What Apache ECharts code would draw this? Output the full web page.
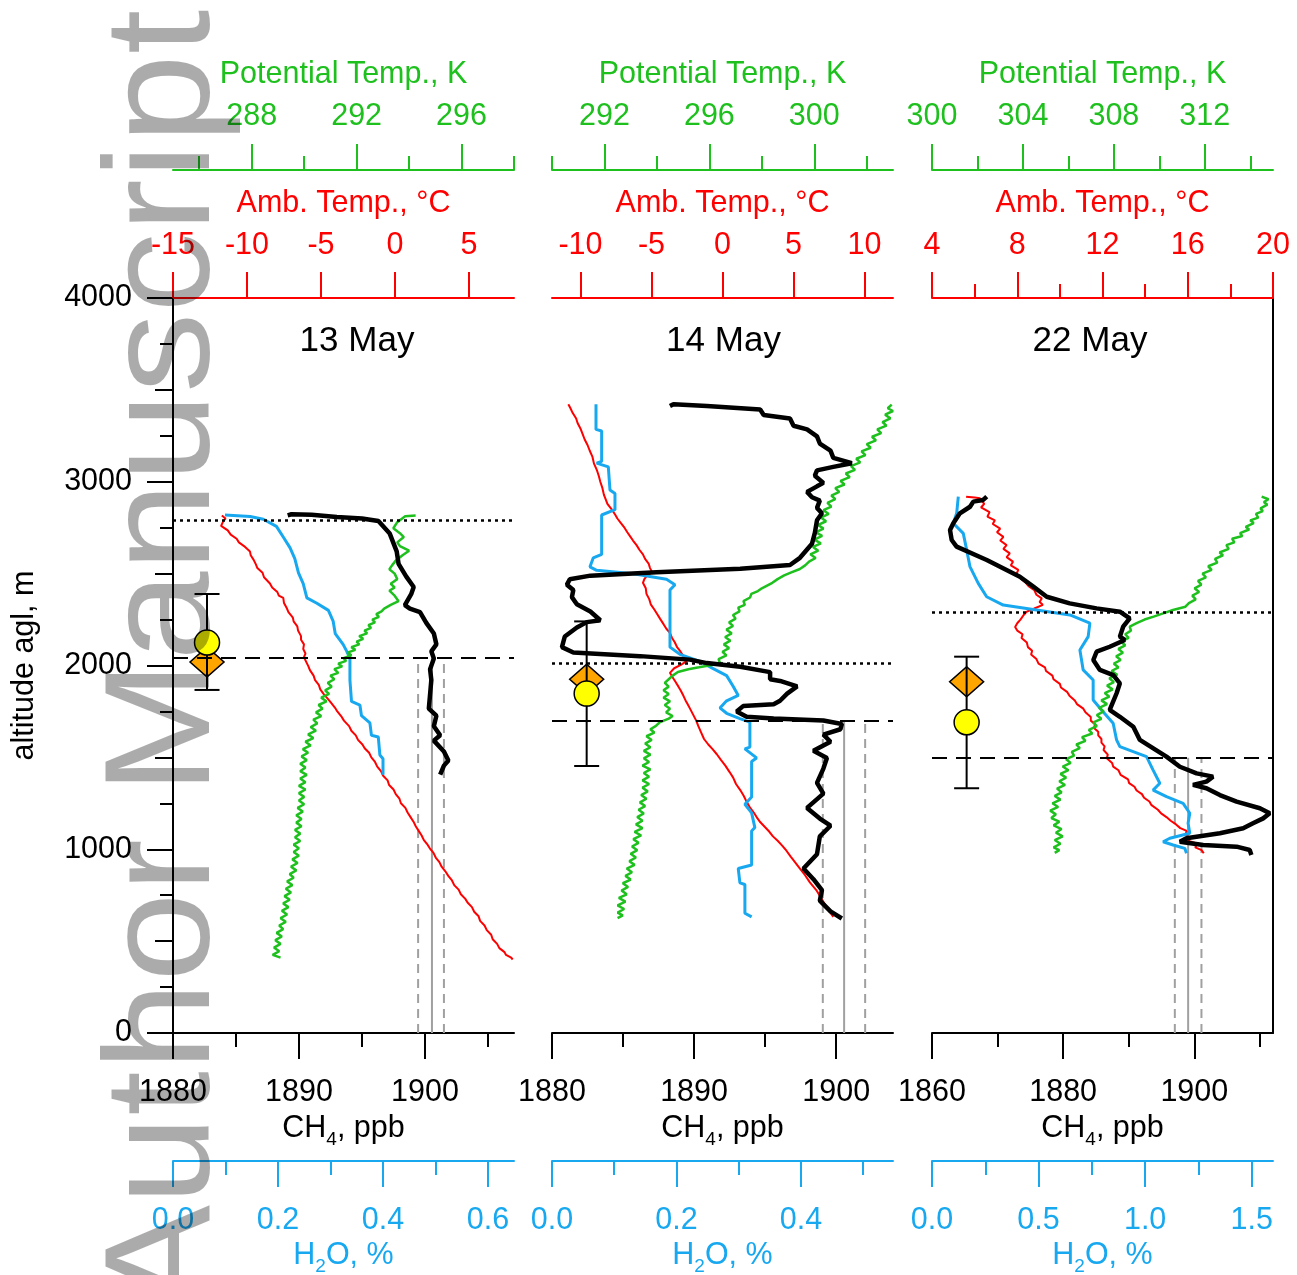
<!DOCTYPE html>
<html>
<head>
<meta charset="utf-8">
<script src="https://cdn.jsdelivr.net/npm/echarts@6/dist/echarts.min.js"></script>
<style>
  html, body { margin: 0; padding: 0; background: #fff; }
  #chart { width: 1297px; height: 1275px; }
</style>
</head>
<body>
<div id="chart"></div>
<script>
// ---------- flight days and axis definitions ----------
const flightDates = ['13 May', '14 May', '22 May'];

const ch4Range = [[1880, 1907.06], [1880, 1904], [1860, 1912]];
const ch4Major = [[1880, 1890, 1900], [1880, 1890, 1900], [1860, 1880, 1900]];
const ch4Minor = [[1885, 1895, 1905], [1885, 1895], [1870, 1890, 1910]];

const h2oRange = [[0, 0.6495], [0, 0.548], [0, 1.6]];
const h2oMajor = [[0, 0.2, 0.4, 0.6], [0, 0.2, 0.4], [0, 0.5, 1.0, 1.5]];
const h2oMinor = [[0.1, 0.3, 0.5], [0.1, 0.3, 0.5], [0.25, 0.75, 1.25]];

const taRange = [[-15, 8.04], [-12, 12], [4, 20]];
const taMajor = [[-15, -10, -5, 0, 5], [-10, -5, 0, 5, 10], [4, 8, 12, 16, 20]];
const taMinor = [[], [], [6, 10, 14, 18]];

const thRange = [[285, 298], [290, 303], [300, 315]];
const thMajor = [[288, 292, 296], [292, 296, 300], [300, 304, 308, 312]];
const thMinor = [[286, 290, 294, 298], [290, 294, 298, 302], [302, 306, 310, 314]];

const altRange = [0, 4000];
const altHalfTicks = [500, 1500, 2500, 3500];

// boundary-layer heights (m) and CH4 background statistics (ppb)
const dottedLevel = [2790, 2010, 2288];
const dashedLevel = [2040, 1701, 1498];
const ch4Mean = [1900.55, 1900.56, 1899.06];
const ch4Band = [[1899.45, 1901.5], [1899.06, 1902.04], [1897.03, 1901.09]];

// estimated height markers: x position, error bar range, circle and diamond heights
const estX = [1882.7, 1882.44, 1865.28];
const estBar = [[1867, 2389], [1453, 2240], [1332, 2048]];
const estCircle = [2125, 1847, 1691];
const estDiamond = [2019, 1925, 1912];

// ---------- vertical profiles: [value, altitude m] ----------
const ch4_0513 = [[1889.1,2817],[1889.4,2823],[1891,2820],[1893,2808],[1895,2800],[1896.3,2786],[1897.2,2718],[1897.75,2621],[1897.9,2553],[1898.5,2485],[1899.1,2427],[1898.9,2388],[1898.4,2329],[1898.8,2310],[1899.6,2291],[1900.1,2232],[1900.7,2174],[1900.9,2115],[1900.5,2077],[1900.7,2038],[1900.4,1979],[1900.5,1921],[1900.4,1843],[1900.3,1765],[1900.9,1727],[1900.7,1669],[1901.2,1620],[1900.7,1591],[1901.5,1532],[1901.85,1483],[1901.5,1455],[1901.2,1406]];

const h2o_0513 = [[0.099,2819],[0.147,2811],[0.172,2796],[0.197,2757],[0.210,2699],[0.223,2640],[0.232,2582],[0.239,2504],[0.248,2446],[0.255,2368],[0.274,2339],[0.296,2300],[0.305,2242],[0.309,2174],[0.324,2115],[0.331,2077],[0.337,2038],[0.337,1921],[0.340,1805],[0.356,1785],[0.359,1727],[0.375,1688],[0.378,1620],[0.391,1611],[0.394,1513],[0.400,1493],[0.400,1406]];

const ta_0513 = [[-11.7,2816],[-11.45,2800],[-11.6,2786],[-11.75,2760],[-11.3,2735],[-11.1,2712],[-10.7,2690],[-10.55,2670],[-10.2,2650],[-10.0,2635],[-9.8,2621],[-9.75,2600],[-9.55,2575],[-9.4,2550],[-9.3,2530],[-8.95,2505],[-8.85,2480],[-8.45,2446],[-8.3,2425],[-7.95,2400],[-7.85,2380],[-7.55,2368],[-7.5,2340],[-7.3,2310],[-7.2,2290],[-6.9,2260],[-6.85,2240],[-6.6,2213],[-6.55,2190],[-6.35,2160],[-6.35,2140],[-6.15,2115],[-6.2,2090],[-6.05,2065],[-6.15,2045],[-6.0,2020],[-5.85,1995],[-5.75,1975],[-5.5,1945],[-5.4,1920],[-5.15,1895],[-5.05,1870],[-4.8,1843],[-4.55,1820],[-4.3,1795],[-4.05,1770],[-3.9,1750],[-3.6,1720],[-3.45,1700],[-3.1,1670],[-2.95,1645],[-2.65,1620],[-2.5,1595],[-2.2,1570],[-2.05,1550],[-1.75,1525],[-1.6,1500],[-1.35,1475],[-1.2,1450],[-0.95,1425],[-0.8,1400],[-0.5,1375],[-0.4,1350],[-0.1,1325],[0.05,1300],[0.3,1275],[0.4,1250],[0.7,1225],[0.85,1200],[1.05,1175],[1.25,1150],[1.4,1125],[1.6,1100],[1.8,1075],[1.95,1050],[2.2,1025],[2.35,1005],[2.6,980],[2.75,955],[3.0,930],[3.15,905],[3.4,880],[3.6,855],[3.85,830],[4.0,805],[4.3,780],[4.45,755],[4.75,730],[4.9,710],[5.2,685],[5.35,660],[5.65,635],[5.75,610],[6.05,585],[6.2,560],[6.5,535],[6.6,510],[6.9,485],[7.05,462],[7.4,440],[7.5,425],[7.85,410],[7.95,400]];

const th_0513 = [[294.25,2816],[293.85,2812],[293.55,2780],[293.4,2747],[293.65,2720],[293.8,2699],[293.55,2670],[293.65,2650],[294.0,2625],[293.75,2600],[293.5,2572],[293.35,2545],[293.25,2524],[293.45,2500],[293.55,2470],[293.3,2445],[293.45,2425],[293.25,2407],[293.45,2380],[293.6,2350],[293.3,2330],[293.05,2310],[292.95,2295],[292.75,2280],[292.85,2265],[292.6,2250],[292.7,2235],[292.45,2220],[292.55,2205],[292.3,2190],[292.4,2175],[292.1,2160],[292.25,2145],[292.0,2130],[292.1,2115],[291.8,2100],[291.95,2085],[291.65,2070],[291.8,2055],[291.5,2040],[291.6,2025],[291.3,2010],[291.45,1995],[291.15,1980],[291.3,1960],[291.0,1945],[291.15,1925],[290.9,1905],[291.05,1885],[290.8,1865],[290.95,1845],[290.65,1825],[290.85,1805],[290.55,1785],[290.7,1765],[290.45,1745],[290.65,1725],[290.35,1705],[290.5,1685],[290.25,1665],[290.45,1645],[290.15,1625],[290.35,1605],[290.05,1585],[290.25,1565],[289.95,1545],[290.15,1525],[289.9,1505],[290.1,1485],[289.85,1465],[290.05,1445],[289.85,1425],[290.1,1405],[289.85,1385],[290.05,1365],[289.8,1345],[290.05,1325],[289.8,1305],[290.0,1285],[289.8,1265],[290.0,1245],[289.75,1225],[289.95,1205],[289.7,1185],[289.9,1165],[289.7,1145],[289.9,1125],[289.65,1105],[289.85,1085],[289.65,1065],[289.85,1045],[289.6,1025],[289.8,1005],[289.6,985],[289.8,965],[289.55,945],[289.75,925],[289.5,905],[289.7,885],[289.45,865],[289.6,845],[289.35,825],[289.55,805],[289.3,785],[289.5,765],[289.25,745],[289.45,725],[289.2,705],[289.4,685],[289.15,665],[289.35,645],[289.1,625],[289.3,605],[289.05,585],[289.2,565],[288.95,545],[289.15,525],[288.9,505],[289.1,485],[288.85,465],[289.05,445],[288.8,425],[289.1,410]];

const ch4_0514 = [[1888.3,3412],[1888.55,3422],[1890.9,3412],[1894.65,3393],[1894.9,3363],[1896.75,3344],[1897,3305],[1897.95,3285],[1898.65,3247],[1898.85,3208],[1899.6,3169],[1899.8,3130],[1901.1,3101],[1899.8,3081],[1898.65,3062],[1898.5,3033],[1899.1,2994],[1898.65,2975],[1897.95,2945],[1898.3,2916],[1898.85,2897],[1898.65,2858],[1899,2829],[1898.65,2790],[1898.5,2722],[1898.3,2663],[1897.45,2586],[1896.75,2547],[1893.25,2527],[1887.35,2508],[1882.7,2489],[1881.25,2469],[1881.05,2440],[1881.5,2411],[1881.4,2372],[1881.75,2333],[1882.7,2294],[1883.4,2246],[1882.45,2236],[1881.75,2207],[1880.9,2158],[1880.7,2100],[1881.5,2071],[1886.2,2051],[1889.7,2032],[1890.9,2013],[1893.25,1993],[1895.35,1964],[1895.35,1925],[1896.05,1916],[1897.25,1886],[1896.55,1847],[1896.05,1808],[1895.6,1789],[1893.45,1779],[1893,1750],[1893.7,1721],[1895.6,1711],[1899.1,1701],[1900.4,1682],[1900.3,1653],[1899.1,1624],[1899.6,1585],[1898.4,1536],[1899.35,1497],[1899.1,1439],[1898.65,1361],[1899.1,1303],[1897.95,1225],[1898.85,1167],[1899.6,1128],[1898.85,1070],[1898.65,973],[1897.7,895],[1898.4,837],[1899,778],[1898.85,720],[1899.6,662],[1900.4,623]];

const h2o_0514 = [[0.0707,3422],[0.0707,3285],[0.0798,3276],[0.0798,3111],[0.0718,3101],[0.0905,3081],[0.0932,2955],[0.1012,2936],[0.1012,2848],[0.0798,2819],[0.0798,2605],[0.0664,2586],[0.061,2537],[0.0718,2518],[0.1306,2499],[0.184,2469],[0.1976,2440],[0.1896,2411],[0.1896,2100],[0.2056,2061],[0.2378,2022],[0.2591,1983],[0.2806,1945],[0.2913,1886],[0.2993,1837],[0.2806,1808],[0.2699,1769],[0.2806,1740],[0.302,1711],[0.318,1692],[0.318,1556],[0.31,1546],[0.3288,1497],[0.3208,1478],[0.3208,1284],[0.31,1245],[0.3208,1198],[0.326,1118],[0.3208,1099],[0.3208,914],[0.2993,895],[0.302,817],[0.31,808],[0.31,652],[0.3208,632]];

const ta_0514 = [[-10.85,3422],[-10.7,3400],[-10.55,3375],[-10.3,3344],[-10.2,3320],[-10.0,3290],[-9.85,3260],[-9.7,3230],[-9.5,3200],[-9.35,3170],[-9.15,3135],[-9.05,3100],[-8.85,3065],[-8.7,3030],[-8.6,3000],[-8.45,2965],[-8.35,2930],[-8.2,2900],[-8.1,2880],[-7.8,2850],[-7.55,2820],[-7.4,2800],[-7.15,2775],[-6.9,2750],[-6.7,2725],[-6.5,2703],[-6.3,2680],[-6.05,2655],[-5.85,2630],[-5.6,2605],[-5.45,2580],[-5.2,2555],[-5.1,2530],[-4.95,2508],[-5.3,2490],[-5.5,2470],[-5.6,2450],[-5.4,2420],[-5.35,2390],[-5.15,2360],[-5.05,2333],[-4.8,2305],[-4.6,2280],[-4.4,2255],[-4.15,2225],[-3.95,2200],[-3.7,2177],[-3.55,2150],[-3.35,2125],[-3.2,2100],[-2.95,2075],[-2.75,2050],[-2.5,2025],[-2.9,2005],[-3.4,1985],[-3.7,1960],[-3.55,1940],[-3.3,1910],[-3.1,1885],[-2.95,1865],[-2.75,1835],[-2.6,1810],[-2.45,1789],[-2.25,1760],[-2.05,1730],[-1.85,1700],[-1.7,1670],[-1.5,1635],[-1.3,1600],[-1.0,1570],[-0.7,1545],[-0.4,1517],[-0.1,1485],[0.2,1455],[0.5,1420],[0.75,1390],[0.95,1355],[1.25,1322],[1.5,1290],[1.7,1258],[1.95,1225],[2.2,1200],[2.4,1175],[2.65,1148],[3.0,1120],[3.3,1095],[3.55,1070],[3.9,1045],[4.2,1020],[4.5,992],[4.8,960],[5.1,930],[5.45,895],[5.8,860],[6.15,820],[6.6,778],[6.9,740],[7.2,700],[7.5,665],[7.8,632]];

const th_0514 = [[302.95,3420],[302.8,3400],[303.0,3385],[302.7,3365],[302.9,3345],[302.6,3325],[302.75,3305],[302.4,3285],[302.55,3265],[302.2,3245],[302.35,3225],[302.0,3205],[302.15,3185],[301.8,3165],[301.95,3145],[301.6,3125],[301.75,3105],[301.4,3085],[301.55,3065],[301.2,3045],[301.35,3025],[301.0,3005],[301.15,2985],[300.8,2965],[300.95,2945],[300.65,2925],[300.8,2905],[300.5,2885],[300.65,2865],[300.35,2845],[300.55,2825],[300.25,2805],[300.45,2785],[300.15,2765],[300.35,2745],[300.05,2725],[300.3,2705],[300.0,2685],[300.25,2665],[299.95,2645],[300.15,2625],[299.85,2605],[300.05,2585],[299.8,2565],[299.65,2545],[299.45,2525],[299.1,2505],[298.85,2490],[298.6,2470],[298.4,2450],[298.2,2435],[298.0,2420],[297.85,2405],[297.6,2390],[297.55,2370],[297.3,2350],[297.35,2330],[297.1,2315],[297.15,2295],[296.9,2275],[297.0,2255],[296.75,2235],[296.9,2215],[296.65,2195],[296.85,2175],[296.6,2155],[296.8,2135],[296.55,2115],[296.75,2095],[296.5,2075],[296.65,2055],[296.35,2035],[296.4,2015],[296.1,2003],[295.6,1990],[295.2,1980],[294.8,1965],[294.6,1945],[294.45,1925],[294.3,1905],[294.45,1885],[294.25,1865],[294.45,1845],[294.25,1825],[294.5,1805],[294.3,1785],[294.5,1765],[294.35,1745],[294.6,1725],[294.45,1711],[294.1,1690],[293.95,1670],[293.75,1653],[293.9,1635],[293.6,1615],[293.8,1595],[293.55,1575],[293.75,1555],[293.5,1535],[293.75,1515],[293.5,1495],[293.7,1475],[293.45,1455],[293.75,1435],[293.5,1415],[293.7,1395],[293.45,1375],[293.7,1355],[293.45,1335],[293.65,1315],[293.4,1295],[293.6,1275],[293.35,1255],[293.55,1235],[293.3,1215],[293.5,1195],[293.25,1175],[293.45,1155],[293.2,1135],[293.45,1115],[293.15,1095],[293.4,1075],[293.1,1055],[293.3,1035],[293.05,1015],[293.25,995],[293.0,975],[293.2,955],[292.95,935],[293.15,915],[292.85,895],[293.05,875],[292.8,855],[293.0,835],[292.7,815],[292.9,795],[292.65,775],[292.85,755],[292.55,735],[292.8,715],[292.5,695],[292.75,675],[292.5,655],[292.7,640],[292.5,625]];

const ch4_0522 = [[1868.35,2919],[1867.8,2901],[1866.3,2892],[1865.8,2864],[1864.25,2828],[1863.25,2774],[1862.75,2737],[1863,2683],[1863.75,2647],[1868.35,2574],[1873.4,2483],[1875.45,2429],[1877.5,2374],[1881,2338],[1885.1,2311],[1888.65,2293],[1890.15,2257],[1889.15,2211],[1888.65,2157],[1889.4,2139],[1887.1,2102],[1885.1,2075],[1884.6,2030],[1885.6,1976],[1887.65,1948],[1888.65,1903],[1888.15,1849],[1887.1,1758],[1888.65,1721],[1890.7,1667],[1891.7,1595],[1893.75,1549],[1895.75,1504],[1897.8,1449],[1900.35,1413],[1902.85,1395],[1901.85,1368],[1899.8,1350],[1901.85,1332],[1903.9,1295],[1906.45,1259],[1910,1223],[1911.5,1196],[1910.5,1168],[1908.95,1141],[1907.45,1114],[1903.9,1087],[1898.8,1060],[1897.8,1041],[1901.35,1023],[1906.45,1014],[1908.45,996],[1908.7,969]];

const h2o_0522 = [[0.1234,2919],[0.1157,2828],[0.0999,2774],[0.1467,2719],[0.1627,2629],[0.1781,2538],[0.2171,2447],[0.2564,2374],[0.3343,2329],[0.4909,2302],[0.647,2275],[0.7407,2230],[0.7328,2157],[0.6939,2084],[0.7093,1976],[0.7562,1921],[0.7562,1812],[0.7956,1758],[0.85,1686],[0.866,1595],[0.8814,1558],[1.0066,1504],[1.0375,1431],[1.0689,1359],[1.0375,1322],[1.1003,1286],[1.1782,1250],[1.2096,1196],[1.2016,1141],[1.2096,1087],[1.1158,1060],[1.0844,1041],[1.1313,1023],[1.1861,1005],[1.1941,978]];

const ta_0522 = [[5.6,2919],[6.0,2914],[6.25,2910],[6.45,2880],[6.3,2860],[6.7,2835],[6.6,2810],[6.95,2790],[6.85,2770],[7.2,2745],[7.05,2725],[7.35,2700],[7.2,2680],[7.5,2655],[7.35,2635],[7.65,2610],[7.5,2590],[7.8,2565],[7.7,2545],[8.05,2520],[7.95,2495],[8.2,2470],[8.4,2450],[8.55,2430],[8.8,2410],[8.9,2385],[9.15,2365],[9.05,2345],[9.2,2330],[8.8,2310],[8.45,2293],[8.3,2275],[8.15,2250],[8.0,2230],[7.9,2210],[8.0,2190],[8.25,2170],[8.2,2150],[8.45,2125],[8.5,2100],[8.7,2080],[8.65,2060],[8.9,2035],[9.0,2010],[9.3,1990],[9.35,1970],[9.65,1945],[9.7,1925],[10.0,1900],[10.05,1880],[10.35,1855],[10.45,1835],[10.7,1810],[10.8,1790],[11.1,1765],[11.2,1745],[11.45,1720],[11.45,1700],[11.65,1680],[11.6,1660],[11.8,1640],[11.8,1620],[11.95,1600],[11.95,1580],[12.1,1560],[12.05,1540],[12.25,1515],[12.2,1495],[12.45,1470],[12.5,1450],[12.75,1430],[12.85,1405],[13.2,1380],[13.25,1360],[13.5,1340],[13.6,1320],[13.85,1300],[13.95,1280],[14.2,1260],[14.3,1240],[14.6,1215],[14.75,1195],[15.0,1175],[15.2,1155],[15.45,1135],[15.65,1115],[15.95,1100],[15.9,1080],[16.1,1060],[16.05,1045],[16.45,1030],[16.35,1010],[16.65,995],[16.75,978]];

const th_0522 = [[314.5,2919],[314.8,2905],[314.6,2890],[314.75,2875],[314.45,2855],[314.55,2840],[314.25,2825],[314.35,2805],[314.0,2790],[314.15,2775],[313.8,2755],[313.95,2740],[313.55,2720],[313.65,2705],[313.2,2690],[313.3,2670],[312.95,2655],[313.05,2635],[312.65,2615],[312.8,2600],[312.45,2580],[312.55,2560],[312.15,2540],[312.3,2520],[311.9,2500],[312.05,2480],[311.7,2460],[311.85,2440],[311.55,2420],[311.75,2400],[311.45,2380],[311.6,2360],[311.3,2340],[311.15,2320],[310.6,2302],[310.2,2285],[309.75,2266],[309.35,2250],[309.0,2230],[308.7,2211],[308.75,2190],[308.5,2170],[308.65,2150],[308.3,2130],[308.5,2110],[308.2,2090],[308.4,2070],[308.1,2050],[308.3,2030],[308.0,2010],[308.2,1990],[307.9,1970],[308.15,1950],[307.8,1930],[308.0,1910],[307.7,1890],[307.95,1870],[307.6,1850],[307.8,1830],[307.45,1810],[307.7,1790],[307.35,1770],[307.55,1750],[307.25,1730],[307.45,1710],[307.1,1690],[307.25,1670],[306.9,1650],[307.05,1630],[306.6,1610],[306.75,1590],[306.35,1570],[306.5,1550],[306.15,1530],[306.25,1510],[305.9,1490],[306.1,1470],[305.75,1450],[306.0,1430],[305.65,1410],[305.9,1390],[305.6,1370],[305.85,1350],[305.5,1330],[305.7,1310],[305.4,1290],[305.65,1270],[305.3,1250],[305.55,1230],[305.2,1210],[305.45,1190],[305.25,1170],[305.6,1150],[305.35,1130],[305.7,1110],[305.45,1090],[305.75,1070],[305.4,1050],[305.65,1030],[305.35,1010],[305.6,995],[305.4,980]];

const ch4Profiles = [ch4_0513, ch4_0514, ch4_0522];
const h2oProfiles = [h2o_0513, h2o_0514, h2o_0522];
const taProfiles = [ta_0513, ta_0514, ta_0522];
const thProfiles = [th_0513, th_0514, th_0522];

// ---------- styling ----------
const FONT = "'Liberation Sans', Arial, Helvetica, sans-serif";
const BLACK = '#000000', BLUE = '#18a8f0', RED = '#ff0000', GREEN = '#1ec01e', GRAY = '#a0a0a0';
const FS = 30.5;
const gridLeft = [173, 552, 932];
const titleX = [357, 723.5, 1090];
const GRID_W = 341, GRID_TOP = 298, GRID_H = 735;
const STACK_OFFSET = 128;

const xAxes = [], yAxes = [], series = [];
const plain = v => String(v);

function addAxisPair(g, pos, offset, range, major, minor, color, o) {
  const idx = xAxes.length;
  xAxes.push({
    type: 'value', gridIndex: g, position: pos, offset: offset,
    min: range[0], max: range[1],
    axisLine: { show: true, onZero: false, lineStyle: { color: color, width: 2 } },
    axisTick: { show: true, inside: false, length: 26, customValues: major, lineStyle: { color: color, width: 2 } },
    axisLabel: { show: true, customValues: major, margin: o.margin, color: color,
                 fontSize: FS, fontFamily: FONT, formatter: o.fmt || plain },
    splitLine: { show: false },
    name: o.name, nameLocation: 'middle', nameGap: o.nameGap, nameMoveOverlap: false,
    nameTextStyle: Object.assign({ color: color, fontSize: FS, fontFamily: FONT, lineHeight: 34 },
                                 o.rich ? { rich: o.rich } : {})
  });
  xAxes.push({
    type: 'value', gridIndex: g, position: pos, offset: offset,
    min: range[0], max: range[1],
    axisLine: { show: false, onZero: false },
    axisTick: { show: minor.length > 0, inside: false, length: 14, customValues: minor,
                lineStyle: { color: color, width: 2 } },
    axisLabel: { show: false }, splitLine: { show: false }
  });
  return idx;
}

function subRich(color) {
  return {
    a: { color: color, fontSize: FS, fontFamily: FONT, lineHeight: 40 },
    s: { color: color, fontSize: 19, fontFamily: FONT, lineHeight: 19, verticalAlign: 'bottom' }
  };
}

// altitude axes
yAxes.push({
  type: 'value', gridIndex: 0, min: altRange[0], max: altRange[1], interval: 1000, position: 'left',
  axisLine: { show: true, onZero: false, lineStyle: { color: BLACK, width: 2 } },
  axisTick: { show: true, length: 26, lineStyle: { color: BLACK, width: 2 } },
  minorTick: { show: true, splitNumber: 4, length: 13, lineStyle: { color: BLACK, width: 2 } },
  axisLabel: { margin: 41, color: BLACK, fontSize: FS, fontFamily: FONT, formatter: plain },
  splitLine: { show: false }, minorSplitLine: { show: false },
  name: 'altitude agl, m', nameLocation: 'middle', nameRotate: 90, nameGap: 131, nameMoveOverlap: false,
  nameTextStyle: { color: BLACK, fontSize: FS, fontFamily: FONT, lineHeight: 34 }
});
yAxes.push({
  type: 'value', gridIndex: 0, min: altRange[0], max: altRange[1], position: 'left',
  axisLine: { show: false, onZero: false },
  axisTick: { show: true, length: 18, customValues: altHalfTicks, lineStyle: { color: BLACK, width: 2 } },
  axisLabel: { show: false }, splitLine: { show: false }
});
yAxes.push({ type: 'value', gridIndex: 1, min: altRange[0], max: altRange[1], show: false });
yAxes.push({ type: 'value', gridIndex: 2, min: altRange[0], max: altRange[1], show: false });
yAxes.push({
  type: 'value', gridIndex: 2, min: altRange[0], max: altRange[1], position: 'right',
  axisLine: { show: true, onZero: false, lineStyle: { color: BLACK, width: 2 } },
  axisTick: { show: false }, axisLabel: { show: false }, splitLine: { show: false }
});
const mainY = [0, 2, 3];

function errorBar(params, api) {
  const x = api.value(0);
  const lo = api.coord([x, api.value(1)]);
  const hi = api.coord([x, api.value(2)]);
  const hw = 12.5;
  const st = { stroke: BLACK, lineWidth: 2 };
  return {
    type: 'group',
    children: [
      { type: 'line', shape: { x1: lo[0], y1: lo[1], x2: hi[0], y2: hi[1] }, style: st },
      { type: 'line', shape: { x1: lo[0] - hw, y1: lo[1], x2: lo[0] + hw, y2: lo[1] }, style: st },
      { type: 'line', shape: { x1: hi[0] - hw, y1: hi[1], x2: hi[0] + hw, y2: hi[1] }, style: st }
    ]
  };
}

const grids = [];
for (let p = 0; p < 3; p++) {
  grids.push({ left: gridLeft[p], top: GRID_TOP, width: GRID_W, height: GRID_H,
               containLabel: false, outerBoundsMode: 'none' });

  const ch4Ax = addAxisPair(p, 'bottom', 0, ch4Range[p], ch4Major[p], ch4Minor[p], BLACK,
    { margin: 44, name: '{a|CH}{s|4}{a|, ppb}', nameGap: 76, rich: subRich(BLACK) });
  const h2oAx = addAxisPair(p, 'bottom', STACK_OFFSET, h2oRange[p], h2oMajor[p], h2oMinor[p], BLUE,
    { margin: 44, name: '{a|H}{s|2}{a|O, %}', nameGap: 75, rich: subRich(BLUE), fmt: v => v.toFixed(1) });
  const taAx = addAxisPair(p, 'top', 0, taRange[p], taMajor[p], taMinor[p], RED,
    { margin: 37, name: 'Amb. Temp., °C', nameGap: 77 });
  const thAx = addAxisPair(p, 'top', STACK_OFFSET, thRange[p], thMajor[p], thMinor[p], GREEN,
    { margin: 38, name: 'Potential Temp., K', nameGap: 78 });
  const y = mainY[p];

  // background CH4 band and boundary-layer levels
  series.push({
    type: 'line', xAxisIndex: ch4Ax, yAxisIndex: y, symbol: 'none', z: 1,
    data: [[ch4Mean[p], 0], [ch4Mean[p], dashedLevel[p]]],
    lineStyle: { color: GRAY, width: 2 },
    markLine: {
      symbol: 'none', silent: true, label: { show: false }, animation: false,
      data: [
        { yAxis: dottedLevel[p], lineStyle: { color: BLACK, width: 2.5, type: [3, 4] } },
        { yAxis: dashedLevel[p], lineStyle: { color: BLACK, width: 2, type: [15, 9] } }
      ]
    }
  });
  ch4Band[p].forEach(v => series.push({
    type: 'line', xAxisIndex: ch4Ax, yAxisIndex: y, symbol: 'none', z: 1,
    data: [[v, 0], [v, dashedLevel[p]]],
    lineStyle: { color: GRAY, width: 2, type: [9, 6] }
  }));

  series.push({ type: 'line', xAxisIndex: taAx, yAxisIndex: y, data: taProfiles[p], symbol: 'none',
    lineStyle: { color: RED, width: 2 }, z: 2 });
  series.push({ type: 'line', xAxisIndex: h2oAx, yAxisIndex: y, data: h2oProfiles[p], symbol: 'none',
    lineStyle: { color: BLUE, width: 3 }, z: 2 });
  series.push({ type: 'line', xAxisIndex: thAx, yAxisIndex: y, data: thProfiles[p], symbol: 'none',
    lineStyle: { color: GREEN, width: 2.5 }, z: 2 });
  series.push({ type: 'line', xAxisIndex: ch4Ax, yAxisIndex: y, data: ch4Profiles[p], symbol: 'none',
    lineStyle: { color: BLACK, width: 4.5 }, z: 3 });

  // height estimates with uncertainty
  series.push({ type: 'scatter', xAxisIndex: ch4Ax, yAxisIndex: y, z: 4, symbol: 'diamond',
    symbolSize: [34, 30], data: [[estX[p], estDiamond[p]]],
    itemStyle: { color: '#ffa500', borderColor: BLACK, borderWidth: 1.5, opacity: 1 } });
  series.push({ type: 'custom', xAxisIndex: ch4Ax, yAxisIndex: y, z: 5, renderItem: errorBar,
    encode: { x: 0, y: [1, 2] }, data: [[estX[p], estBar[p][0], estBar[p][1]]] });
  series.push({ type: 'scatter', xAxisIndex: ch4Ax, yAxisIndex: y, z: 6, symbol: 'circle',
    symbolSize: 25, data: [[estX[p], estCircle[p]]],
    itemStyle: { color: '#ffff00', borderColor: BLACK, borderWidth: 1.5, opacity: 1 } });
}

const graphic = flightDates.map((d, i) => ({
  type: 'text', x: titleX[i], y: 341, z: 50,
  style: { text: d, fontSize: 35, fontFamily: FONT, fill: BLACK,
           align: 'center', verticalAlign: 'middle', textAlign: 'center', textVerticalAlign: 'middle' }
}));
graphic.push({
  type: 'text', x: 168, y: 1312, rotation: Math.PI / 2, scaleX: 1.07, z: 100,
  style: { text: 'Author Manuscript', fontSize: 150, fontFamily: FONT, fill: 'rgba(0,0,0,0.33)',
           align: 'left', verticalAlign: 'middle', textAlign: 'left', textVerticalAlign: 'middle' }
});

const chart = echarts.init(document.getElementById('chart'), null, { renderer: 'canvas' });
chart.setOption({
  backgroundColor: '#ffffff',
  animation: false,
  grid: grids,
  xAxis: xAxes,
  yAxis: yAxes,
  series: series,
  graphic: graphic
});
</script>
</body>
</html>
